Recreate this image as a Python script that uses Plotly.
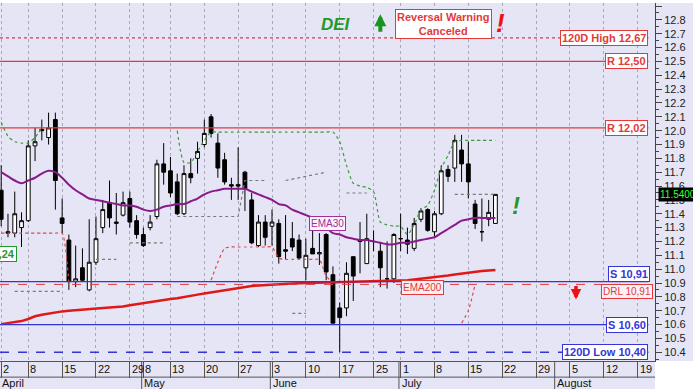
import plotly.graph_objects as go

# ---------------- data ----------------
opens = [11.57, 11.27, 11.26, 11.30, 11.35, 11.89, 12.01, 11.95, 12.08, 11.37,
         11.21, 10.91, 11.01, 10.85, 11.05, 11.30, 11.48, 11.33, 11.39, 11.51,
         11.35, 11.25, 11.30, 11.38, 11.76, 11.71, 11.63, 11.40, 11.69, 11.80,
         11.90, 12.10, 11.91, 11.79, 11.61, 11.61, 11.70, 11.50, 11.17, 11.34,
         11.31, 11.33, 11.14, 11.22, 11.21, 11.01, 11.15, 11.11, 11.25, 10.96,
         10.72, 10.72, 11.09, 11.21, 11.04, 11.20, 11.13, 10.93, 10.93, 11.22,
         11.21, 11.15, 11.36, 11.43, 11.27, 11.40, 11.72, 11.73, 11.86, 11.76,
         11.47, 11.27, 11.36, 11.33]
highs = [11.75, 11.40, 11.56, 11.41, 11.93, 12.02, 12.08, 12.13, 12.13, 11.51,
         11.25, 11.17, 11.15, 11.36, 11.38, 11.50, 11.64, 11.55, 11.56, 11.56,
         11.39, 11.30, 11.39, 11.79, 11.91, 11.81, 11.69, 11.75, 11.80, 11.92,
         12.08, 12.12, 11.98, 11.84, 11.66, 11.88, 11.71, 11.55, 11.39, 11.39,
         11.43, 11.36, 11.39, 11.34, 11.25, 11.22, 11.28, 11.26, 11.26, 11.02,
         10.76, 11.05, 11.09, 11.34, 11.40, 11.28, 11.19, 11.20, 11.26, 11.40,
         11.30, 11.37, 11.44, 11.44, 11.42, 11.75, 11.75, 11.97, 11.97, 11.92,
         11.50, 11.51, 11.50, 11.54]
lows = [11.31, 11.23, 11.23, 11.16, 11.34, 11.78, 11.93, 11.90, 11.43, 11.26,
        10.85, 10.87, 10.91, 10.84, 11.03, 11.26, 11.30, 11.25, 11.38, 11.30,
        11.22, 11.16, 11.28, 11.36, 11.61, 11.52, 11.39, 11.39, 11.62, 11.69,
        11.88, 11.95, 11.66, 11.61, 11.50, 11.50, 11.42, 11.18, 11.16, 11.17,
        11.17, 11.04, 11.07, 11.13, 11.07, 10.92, 11.11, 11.03, 10.92, 10.61,
        10.40, 10.66, 10.77, 10.97, 11.04, 11.13, 10.87, 10.86, 10.90, 11.13,
        11.11, 11.13, 11.34, 11.27, 11.23, 11.39, 11.63, 11.63, 11.63, 11.51,
        11.29, 11.20, 11.31, 11.33]
closes = [11.36, 11.26, 11.40, 11.35, 11.89, 11.92, 12.00, 12.02, 11.64, 11.33,
          10.91, 10.93, 10.92, 11.05, 11.22, 11.43, 11.37, 11.34, 11.48, 11.34,
          11.25, 11.17, 11.34, 11.76, 11.70, 11.55, 11.40, 11.69, 11.66, 11.85,
          11.98, 11.98, 11.73, 11.63, 11.60, 11.60, 11.58, 11.19, 11.34, 11.23,
          11.34, 11.09, 11.13, 11.16, 11.08, 11.10, 11.11, 11.12, 10.98, 10.61,
          10.65, 10.97, 10.95, 11.20, 11.22, 11.20, 11.01, 10.93, 11.25, 11.22,
          11.18, 11.33, 11.42, 11.28, 11.40, 11.71, 11.67, 11.93, 11.76, 11.63,
          11.33, 11.27, 11.41, 11.54]

ema30 = [11.70, 11.67, 11.64, 11.62, 11.64, 11.66, 11.69, 11.71, 11.70, 11.66,
         11.61, 11.57, 11.54, 11.51, 11.50, 11.49, 11.48, 11.47, 11.46, 11.46,
         11.45, 11.43, 11.42, 11.43, 11.45, 11.46, 11.47, 11.47, 11.49, 11.51,
         11.54, 11.56, 11.57, 11.58, 11.58, 11.58, 11.58, 11.56, 11.54, 11.52,
         11.50, 11.47, 11.46, 11.43, 11.41, 11.39, 11.37, 11.34, 11.30, 11.26,
         11.25, 11.23, 11.22, 11.21, 11.21, 11.20, 11.19, 11.18, 11.18, 11.19,
         11.19, 11.20, 11.21, 11.22, 11.23, 11.26, 11.29, 11.32, 11.35, 11.36,
         11.37, 11.37, 11.37, 11.37]
ema200 = [10.603, 10.610, 10.615, 10.625, 10.640, 10.660, 10.670, 10.680, 10.690, 10.695,
          10.700, 10.703, 10.706, 10.710, 10.716, 10.720, 10.723, 10.727, 10.730, 10.740,
          10.748, 10.755, 10.760, 10.770, 10.777, 10.785, 10.790, 10.800, 10.808, 10.816,
          10.824, 10.832, 10.840, 10.850, 10.858, 10.866, 10.874, 10.878, 10.882, 10.886,
          10.890, 10.892, 10.895, 10.897, 10.899, 10.900, 10.902, 10.903, 10.904, 10.906,
          10.907, 10.908, 10.909, 10.910, 10.910, 10.910, 10.911, 10.912, 10.913, 10.914,
          10.920, 10.925, 10.930, 10.936, 10.942, 10.947, 10.954, 10.961, 10.968, 10.975,
          10.980, 10.986, 10.990, 10.994]
N = None
stop_high = [12.06, 11.96, 11.92, 11.91, 11.91, 11.95, 12.02, N, N, N,
             N, N, N, N, N, N, N, N, N, N,
             N, N, N, N, N, N, 12.00, 11.77, 11.77, 11.85,
             11.93, 11.99, 11.99, 11.99, 11.99, 11.99, 11.99, 11.99, 11.99, 11.99,
             11.99, 11.99, 11.99, 11.99, 11.99, 11.99, 11.99, 11.99, 11.99, 11.99,
             11.92, 11.75, 11.62, 11.60, 11.59, 11.56, 11.34, 11.32, 11.31, 11.31,
             11.25, 11.32, 11.43, 11.46, 11.57, 11.73, 11.82, 11.92, 11.93, 11.93,
             11.93, 11.93, 11.93, 11.93]
stop_low = [11.26, 11.26, 11.26, 11.26, 11.26, 11.26, 11.26, 11.26, 11.26, 11.26,
            10.90, N, N, N, N, N, N, N, N, N,
            N, N, N, N, N, N, N, N, N, N,
            N, 10.92, 11.05, 11.15, 11.16, 11.16, 11.16, 11.16, 11.16, 11.16,
            11.16, 11.08, 11.07, 11.07, 11.07, 11.07, 11.07, 11.07, 10.95, 10.90,
            N, N, N, N, N, N, N, N, N, N,
            N, N, N, N, N, N, N, N, 10.61, 10.70,
            10.89, N, N, N]
pivots_a = [N, N, 10.84, 10.84, 10.84, 10.84, 10.84, 10.84, 10.84, 10.84,
            N, N, N, N, 11.07, 11.07, 11.07, 11.07, N, 11.19,
            11.19, 11.19, 11.19, 11.19, 11.19, N, 11.38, 11.38, 11.38, 11.38,
            11.38, 11.38, 11.38, 11.38, 11.38, 11.38, 11.64, 11.64, 11.64, 11.64,
            N, N, 11.64, 11.65, 11.66, 11.67, 11.68, 11.69, 11.70, N,
            N, 11.55, 11.55, 11.55, 11.55, N, N, N, N, N,
            N, N, N, N, N, N, N, 11.54, 11.54, 11.54,
            11.54, 11.54, 11.54, 11.54]
pivots_b = [N] * 43 + [10.68, 10.68, 10.68] + [N] * 28

# tick positions (trading-day index) and labels
tick_idx = [0, 4, 9, 14, 19, 21, 25, 30, 35, 40, 45, 50, 55, 59, 64, 69, 74, 79, 84, 89, 94]
tick_text = ["2", "8", "15", "22", "29", "8", "13", "20", "27", "3", "10", "17", "25",
             "1", "8", "15", "22", "29", "5", "12", "19"]
month_idx = [0, 21, 40, 59, 82]
month_text = ["April", "May", "June", "July", "August"]

# horizontal levels
levels_red = [("120D High 12,67", 12.67, "dot"), ("R 12,50", 12.50, "solid"), ("R 12,02", 12.02, "solid")]
levels_blue = [("S 10,91", 10.91, "solid"), ("S 10,60", 10.60, "solid"), ("120D Low 10,40", 10.40, "dash")]
drl_label, drl_level = "DRL 10,91", 10.89
last_price = 11.54

# ---------------- figure ----------------
x = list(range(len(opens)))
FONT = "Liberation Sans, Arial, sans-serif"
RED = "#e23a3a"
BLUE = "#3535d8"
GREEN = "#1f9a2a"
LAV = "#e5e5f5"

fig = go.Figure()

fig.add_trace(go.Scatter(x=x, y=pivots_a, mode="lines", line=dict(color="#7a7a7a", width=1.2, dash="dot"),
                         connectgaps=False, hoverinfo="skip"))
fig.add_trace(go.Scatter(x=x, y=pivots_b, mode="lines", line=dict(color="#7a7a7a", width=1.2, dash="dot"),
                         connectgaps=False, hoverinfo="skip"))
fig.add_trace(go.Scatter(x=x, y=stop_high, mode="lines", line=dict(color="#3d9a3d", width=1.2, dash="dot",
                         shape="spline", smoothing=0.6), connectgaps=False))
fig.add_trace(go.Scatter(x=x, y=stop_low, mode="lines", line=dict(color="#e04848", width=1.2, dash="dot",
                         shape="spline", smoothing=0.6), connectgaps=False))
fig.add_trace(go.Scatter(x=x, y=ema200, mode="lines", line=dict(color="#e01818", width=2.5)))
fig.add_trace(go.Scatter(x=x, y=ema30, mode="lines", line=dict(color="#8a1a8a", width=2, shape="spline")))
fig.add_trace(go.Candlestick(
    x=x, open=opens, high=highs, low=lows, close=closes,
    increasing=dict(fillcolor="white", line=dict(color="black", width=1)),
    decreasing=dict(fillcolor="black", line=dict(color="black", width=1)),
    whiskerwidth=0,
))

shapes = []
# background strips for the axes
shapes.append(dict(type="rect", xref="paper", yref="paper", x0=0, x1=1, y0=-0.078, y1=0,
                   fillcolor=LAV, line=dict(width=0), layer="below"))
shapes.append(dict(type="rect", xref="paper", yref="paper", x0=1, x1=1.06, y0=0, y1=1,
                   fillcolor=LAV, line=dict(width=0), layer="below"))
# row separator in date strip
shapes.append(dict(type="line", xref="paper", yref="paper", x0=0, x1=1, y0=-0.045, y1=-0.045,
                   line=dict(color="#555", width=1)))
for mi in month_idx:
    shapes.append(dict(type="line", xref="x", yref="paper", x0=mi - 0.25, x1=mi - 0.25, y0=0, y1=-0.08,
                       line=dict(color="#555", width=1)))
for lab, lv, dsh in levels_red:
    shapes.append(dict(type="line", xref="paper", yref="y", x0=0, x1=0.99, y0=lv, y1=lv,
                       line=dict(color=RED, width=1.3, dash=dsh)))
for lab, lv, dsh in levels_blue:
    shapes.append(dict(type="line", xref="paper", yref="y", x0=0, x1=0.99, y0=lv, y1=lv,
                       line=dict(color=BLUE, width=1.3, dash=dsh)))
shapes.append(dict(type="line", xref="paper", yref="y", x0=0, x1=0.99, y0=drl_level, y1=drl_level,
                   line=dict(color=RED, width=1, dash="dash")))

ann = []
for ti, tt in zip(tick_idx, tick_text):
    ann.append(dict(x=ti, y=-0.022, xref="x", yref="paper", text=tt, showarrow=False,
                    xanchor="left", yanchor="middle", xshift=0, font=dict(size=11, color="#111", family=FONT)))
for mi, mt in zip(month_idx, month_text):
    ann.append(dict(x=mi, y=-0.062, xref="x", yref="paper", text=mt, showarrow=False,
                    xanchor="left", yanchor="middle", xshift=-1, font=dict(size=11, color="#111", family=FONT)))


def box(text, xx, yy, color, xanchor="right", yanchor="middle", xref="paper", yref="y", size=11,
        bold=True, bg="white", pad=1):
    t = "<b>%s</b>" % text if bold else text
    return dict(x=xx, y=yy, xref=xref, yref=yref, text=t, showarrow=False, xanchor=xanchor, yanchor=yanchor,
                font=dict(size=size, color=color, family=FONT), bgcolor=bg, bordercolor=color,
                borderwidth=1, borderpad=pad)


ann.append(box(levels_red[0][0], 0.99, levels_red[0][1], RED))
ann.append(box(levels_red[1][0], 0.99, levels_red[1][1], RED))
ann.append(box(levels_red[2][0], 0.99, levels_red[2][1], RED))
ann.append(box(levels_blue[0][0], 0.993, levels_blue[0][1], BLUE, yanchor="bottom"))
ann.append(box(levels_blue[1][0], 0.99, levels_blue[1][1], BLUE))
ann.append(box(levels_blue[2][0], 0.99, levels_blue[2][1], BLUE))
ann.append(box(drl_label, 0.997, drl_level, RED, yanchor="top", size=10, bold=False, bg="#fbf0f4"))
ann.append(box("EMA30", 48.2, 11.33, "#a03098", xanchor="center", xref="x", size=10, bold=False, bg="#fbf3fb"))
ann.append(box("EMA200", 62.3, 10.87, RED, xanchor="center", xref="x", size=10, bold=False, bg="#fbeef2"))
ann.append(box("Reversal Warning<br>Canceled", 65.3, 12.77, RED, xanchor="center", xref="x", size=11))
ann.append(box("11,24", 17 / 655, 11.11, GREEN, xanchor="right", size=11))
ann.append(dict(x=1.004, y=last_price, xref="paper", yref="y", text="%.5f" % last_price, showarrow=False,
                xanchor="left", yanchor="middle", font=dict(size=10, color="#33ff33", family=FONT),
                bgcolor="black", borderpad=1))
ann.append(dict(x=49.5, y=12.77, xref="x", yref="y", text="<b><i>DEI</i></b>", showarrow=False,
                font=dict(size=17, color=GREEN, family=FONT)))
ann.append(dict(x=73.8, y=12.78, xref="x", yref="y", text="<b><i>!</i></b>", showarrow=False,
                font=dict(size=26, color="#ee1111", family=FONT)))
ann.append(dict(x=76.0, y=11.46, xref="x", yref="y", text="<b><i>!</i></b>", showarrow=False,
                font=dict(size=24, color=GREEN, family=FONT)))
ann.append(dict(x=56.0, y=12.84, xref="x", yref="y", text="", showarrow=True, ax=0, ay=19,
                arrowhead=2, arrowsize=0.6, arrowwidth=4, arrowcolor="#17951f"))
ann.append(dict(x=84.9, y=10.78, xref="x", yref="y", text="", showarrow=True, ax=0, ay=-15,
                arrowhead=2, arrowsize=0.6, arrowwidth=3.5, arrowcolor="#ee1111"))

fig.update_layout(
    width=693, height=389,
    margin=dict(l=0, r=38, t=3, b=28),
    paper_bgcolor="white", plot_bgcolor=LAV,
    showlegend=False, boxgap=0.2,
    font=dict(family=FONT, size=11, color="#111"),
    shapes=shapes, annotations=ann,
    xaxis=dict(range=[-0.177, 96.57], tickvals=tick_idx, ticktext=[""] * len(tick_idx),
               showgrid=True, gridcolor="#a8a8b8", griddash="dot", gridwidth=1,
               ticks="outside", ticklen=16, tickcolor="#555", showline=True, linecolor="#555",
               zeroline=False, rangeslider=dict(visible=False), fixedrange=True),
    yaxis=dict(range=[10.3368, 12.9217], side="right", dtick=0.1, tick0=10.0, tickformat=".1f",
               showgrid=False, zeroline=False, ticks="outside", ticklen=6, tickcolor="#444",
               showline=True, linecolor="#444", tickfont=dict(size=11, color="#222", family=FONT),
               minor=dict(ticks="outside", ticklen=3, dtick=0.05, tickcolor="#444"), fixedrange=True),
)

fig.write_html("out.html", config={"displayModeBar": False},
               post_script="document.body.style.margin='0px';")
